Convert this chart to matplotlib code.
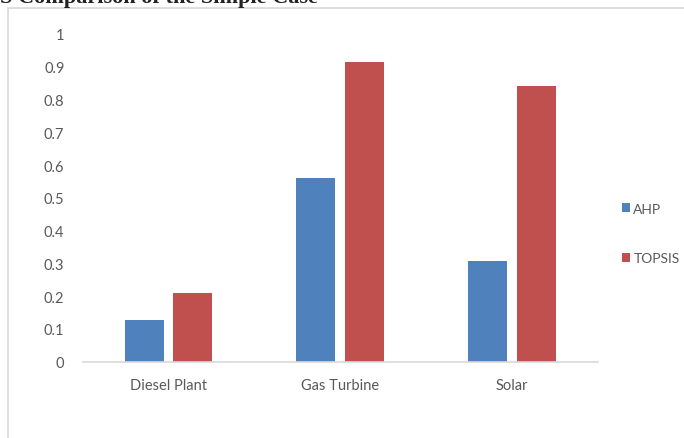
import matplotlib.pyplot as plt
from matplotlib.patches import Rectangle
import numpy as np

# data
categories = ['Diesel Plant', 'Gas Turbine', 'Solar']
ahp = [0.127, 0.561, 0.306]
topsis = [0.209, 0.916, 0.841]
yticks = [0, 0.1, 0.2, 0.3, 0.4, 0.5, 0.6, 0.7, 0.8, 0.9, 1]
ytick_labels = ['0', '0.1', '0.2', '0.3', '0.4', '0.5', '0.6', '0.7', '0.8', '0.9', '1']

W, H = 684, 439
fig = plt.figure(figsize=(W / 100, H / 100), dpi=100)

# chart frame (light grey border, runs off the right/bottom edge)
fig.patches.append(Rectangle((8 / W, -0.05), 1.1, 1 - 9 / H + 0.05,
                             transform=fig.transFigure, fill=False,
                             edgecolor='#d9d9d9', linewidth=1.2))

# clipped title at the very top
fig.text(0.0, 1 - 3 / H, 'S Comparison of the Simple Case', family='Liberation Serif',
         fontweight='bold', fontsize=16, color='#222222', ha='left', va='baseline')

ax = fig.add_axes([82.5 / W, (H - 362.7) / H, (598 - 82.5) / W, (362.7 - 35) / H])

x = np.arange(len(categories))
w = 0.227
off = 0.142
ax.bar(x - off, ahp, w, color='#4f81bd', label='AHP')
ax.bar(x + off, topsis, w, color='#c0504d', label='TOPSIS')

ax.set_xlim(-0.5, len(categories) - 0.5)
ax.set_ylim(0, 1)
ax.set_yticks(yticks)
ax.set_yticklabels(ytick_labels)
ax.set_xticks(x)
ax.set_xticklabels(categories)

for s in ['top', 'right', 'left']:
    ax.spines[s].set_visible(False)
ax.spines['bottom'].set_color('#d9d9d9')
ax.spines['bottom'].set_linewidth(1.2)
ax.tick_params(axis='both', length=0, colors='#595959', labelsize=10.5)
ax.tick_params(axis='y', pad=13)
ax.tick_params(axis='x', pad=12)
for lbl in ax.get_xticklabels() + ax.get_yticklabels():
    lbl.set_family('Lato')

leg = fig.legend(loc='upper left', bbox_to_anchor=(616 / W, 1 - 198 / H), frameon=False,
                 handlelength=0.6, handleheight=0.6, handletextpad=0.25, labelspacing=2.7,
                 borderaxespad=0, prop={'family': 'Lato', 'size': 10})
for t in leg.get_texts():
    t.set_color('#595959')

fig.savefig('out.png', dpi=100)
